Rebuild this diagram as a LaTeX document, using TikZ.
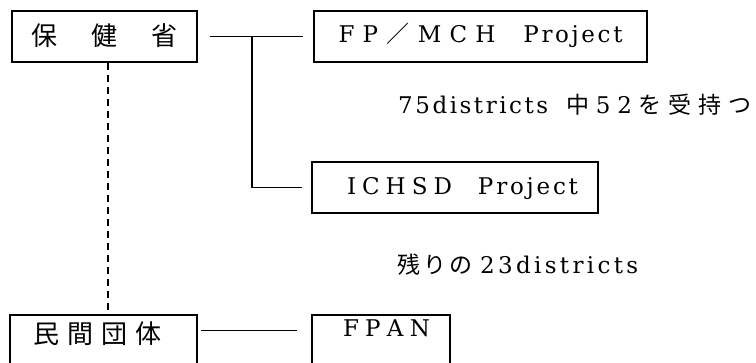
\documentclass[tikz,border=0pt]{standalone}
\usepackage{fontspec}
\setmainfont{DejaVu Serif}
\newfontfamily\jp{Noto Sans CJK JP}
\begin{document}
\begin{tikzpicture}[x=1pt,y=-1pt,
  font=\fontsize{23}{23}\selectfont,
  boxnode/.style={draw,line width=1.3pt,rectangle,inner sep=0pt,minimum height=51pt},
  conn/.style={line width=1.5pt},
  freetext/.style={anchor=base west,inner sep=0pt}]
\useasboundingbox (0,0) rectangle (756,363);
\clip (0,0) rectangle (756,363);
\fill[white] (0,0) rectangle (756,363);

\node[boxnode,minimum width=185pt,text height=21pt,text depth=2pt] (hk) at (104.5,36.5)
  {\fontsize{26}{26}\jp\makebox[146pt][s]{保\hfil 健\hfil 省}};
\node[boxnode,minimum width=333pt,text height=16pt,text depth=3pt] (fp) at (480.5,36.5)
  {\makebox[157pt][s]{F\hfil P\hfil{\jp ／}\hfil M\hfil C\hfil H}\hspace{28pt}\makebox[99pt][s]{P\hfil r\hfil o\hfil j\hfil e\hfil c\hfil t}};
\node[boxnode,minimum width=286pt,text height=17pt,text depth=2pt] (ich) at (455,187.5)
  {\hspace*{15pt}\makebox[105pt][s]{I\hfil C\hfil H\hfil S\hfil D}\hspace{26pt}\makebox[100pt][s]{P\hfil r\hfil o\hfil j\hfil e\hfil c\hfil t}};
\node[boxnode,minimum width=187pt,text height=9pt,text depth=2pt] (mk) at (103.5,340.5)
  {\fontsize{26}{26}\jp\makebox[129pt][s]{民\hfil 間\hfil 団\hfil 体}\hspace*{12pt}};
\node[boxnode,minimum width=138pt,text height=5pt,text depth=12pt] (fpan) at (381,340.5)
  {\hspace*{11pt}\makebox[87pt][s]{F\hfil P\hfil A\hfil N}};

\node[freetext] (t1) at (398,114)
  {\makebox[150pt][s]{7\hfil 5\hfil d\hfil i\hfil s\hfil t\hfil r\hfil i\hfil c\hfil t\hfil s}\hspace{18pt}\makebox[185pt][s]{{\fontsize{23}{23}\jp 中}\hfil 5\hfil 2\hfil{\fontsize{23}{23}\jp を}\hfil{\fontsize{23}{23}\jp 受}\hfil{\fontsize{23}{23}\jp 持}\hfil{\fontsize{23}{23}\jp つ}}};
\node[freetext] (t2) at (397,274)
  {\makebox[75pt][s]{\fontsize{23}{23}\jp 残\hfil り\hfil の}\hspace{8pt}\makebox[158pt][s]{2\hfil 3\hfil d\hfil i\hfil s\hfil t\hfil r\hfil i\hfil c\hfil t\hfil s}};

\draw[conn,shorten <=12pt,shorten >=10pt] (hk.east) -- (fp.west);
\coordinate (j) at (252,36.5);
\draw[conn,shorten >=9pt] (j) |- (ich.west);
\coordinate (d1) at ([xshift=3.5pt]hk.south);
\draw[conn,dash pattern=on 7pt off 5pt] (d1) -- (d1 |- mk.north);
\draw[conn,shorten <=3pt,shorten >=14pt] ([yshift=10pt]mk.east) -- ([yshift=10pt]fpan.west);
\end{tikzpicture}
\end{document}
